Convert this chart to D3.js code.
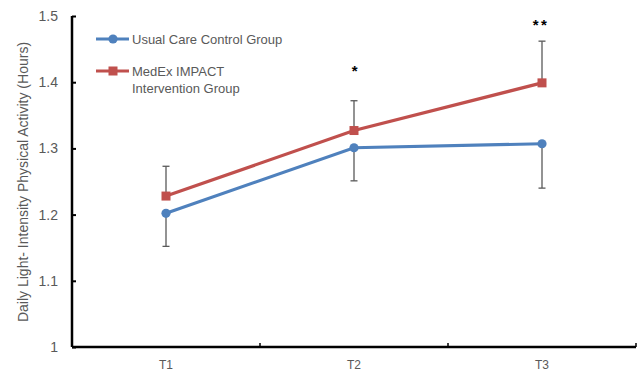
<!DOCTYPE html>
<html><head><meta charset="utf-8">
<script src="https://cdn.jsdelivr.net/npm/d3@7"></script>
<style>body{margin:0;background:#fff}svg{display:block}</style>
</head><body><svg id="c" width="639" height="376"></svg>
<script>
const categories = ["T1","T2","T3"];
const controlValues = [1.202, 1.301, 1.307];
const controlErrLow = [1.152, 1.251, 1.240];
const interventionValues = [1.228, 1.327, 1.399];
const interventionErrHigh = [1.273, 1.372, 1.462];
const significance = ["", "*", "**"];
const yTicks = [1, 1.1, 1.2, 1.3, 1.4, 1.5];
const seriesNames = ["Usual Care Control Group", "MedEx IMPACT Intervention Group"];

const svg = d3.select("#c");
const font = "'Liberation Sans', Arial, sans-serif";
const x = d3.scaleBand().domain(categories).range([72, 636]);
const y = d3.scaleLinear().domain([1, 1.5]).range([347, 16]);
const cx = c => x(c) + x.bandwidth()/2;
const blue = "#4F81BD", red = "#C0504D";

// y axis
const ya = svg.append("g").attr("transform","translate(72,0)")
  .call(d3.axisLeft(y).tickValues(yTicks).tickSize(-4).tickPadding(14)
    .tickFormat(d => d3.format("")(+d.toFixed(1))));
ya.select(".domain").attr("stroke","#000").attr("stroke-width",2.5).attr("d","M0,16V347");
ya.selectAll(".tick line").attr("stroke","#000").attr("stroke-width",2);
ya.selectAll(".tick text").attr("fill","#595959").style("font-family",font).style("font-size","14px");

// x axis
const xa = svg.append("g").attr("transform","translate(0,347)")
  .call(d3.axisBottom(x).tickSize(0).tickPadding(13));
xa.select(".domain").attr("stroke","#000").attr("stroke-width",2.5).attr("d","M72,0H636");
xa.selectAll(".tick text").attr("fill","#595959").style("font-family",font).style("font-size","12px");
xa.selectAll(".sep").data(categories).enter().append("line")
  .attr("x1", d => x(d)+x.bandwidth()).attr("x2", d => x(d)+x.bandwidth())
  .attr("y1",0).attr("y2",-4).attr("stroke","#000").attr("stroke-width",1.5);

// y title
svg.append("text").attr("transform","translate(28,182) rotate(-90)")
  .attr("text-anchor","middle").attr("fill","#595959")
  .style("font-family",font).style("font-size","14px")
  .text("Daily Light- Intensity Physical Activity (Hours)");

const eb = svg.append("g").attr("stroke","#595959").attr("stroke-width",1.3);
categories.forEach((c,i) => {
  const px = cx(c);
  eb.append("line").attr("x1",px).attr("x2",px).attr("y1",y(controlValues[i])).attr("y2",y(controlErrLow[i]));
  eb.append("line").attr("x1",px-3.5).attr("x2",px+3.5).attr("y1",y(controlErrLow[i])).attr("y2",y(controlErrLow[i]));
  eb.append("line").attr("x1",px).attr("x2",px).attr("y1",y(interventionValues[i])).attr("y2",y(interventionErrHigh[i]));
  eb.append("line").attr("x1",px-3.5).attr("x2",px+3.5).attr("y1",y(interventionErrHigh[i])).attr("y2",y(interventionErrHigh[i]));
});

const line = d3.line().x((d,i) => cx(categories[i])).y(d => y(d));
svg.append("path").datum(controlValues).attr("d",line).attr("fill","none").attr("stroke",blue).attr("stroke-width",3.2);
svg.append("path").datum(interventionValues).attr("d",line).attr("fill","none").attr("stroke",red).attr("stroke-width",3.2);
svg.selectAll(".cm").data(controlValues).enter().append("circle")
  .attr("cx",(d,i)=>cx(categories[i])).attr("cy",d=>y(d)).attr("r",4.6).attr("fill",blue);
svg.selectAll(".im").data(interventionValues).enter().append("rect")
  .attr("x",(d,i)=>cx(categories[i])-4.5).attr("y",d=>y(d)-4.5).attr("width",9).attr("height",9).attr("fill",red);

// significance
svg.selectAll(".sig").data(significance).enter().append("text")
  .attr("x",(d,i)=>cx(categories[i]) + (i===1?2:-1)).attr("y",(d,i)=> y(interventionValues[i]) - (i===1?55:53))
  .attr("text-anchor","middle").attr("fill","#000")
  .style("font-family",font).style("font-size","15px").style("font-weight","bold").style("letter-spacing","2.5px").text(d=>d);

// legend
const lg = svg.append("g").style("font-family",font).style("font-size","13px").attr("fill","#595959");
lg.append("line").attr("x1",96).attr("x2",129).attr("y1",39).attr("y2",39).attr("stroke",blue).attr("stroke-width",3.2);
lg.append("circle").attr("cx",113).attr("cy",39).attr("r",4.6).attr("fill",blue);
lg.append("text").attr("x",132).attr("y",44).text(seriesNames[0]);
lg.append("line").attr("x1",96).attr("x2",129).attr("y1",71).attr("y2",71).attr("stroke",red).attr("stroke-width",3.2);
lg.append("rect").attr("x",108.5).attr("y",66.5).attr("width",9).attr("height",9).attr("fill",red);
lg.append("text").attr("x",132).attr("y",76).text("MedEx IMPACT");
lg.append("text").attr("x",132).attr("y",93).text("Intervention Group");
</script></body></html>
